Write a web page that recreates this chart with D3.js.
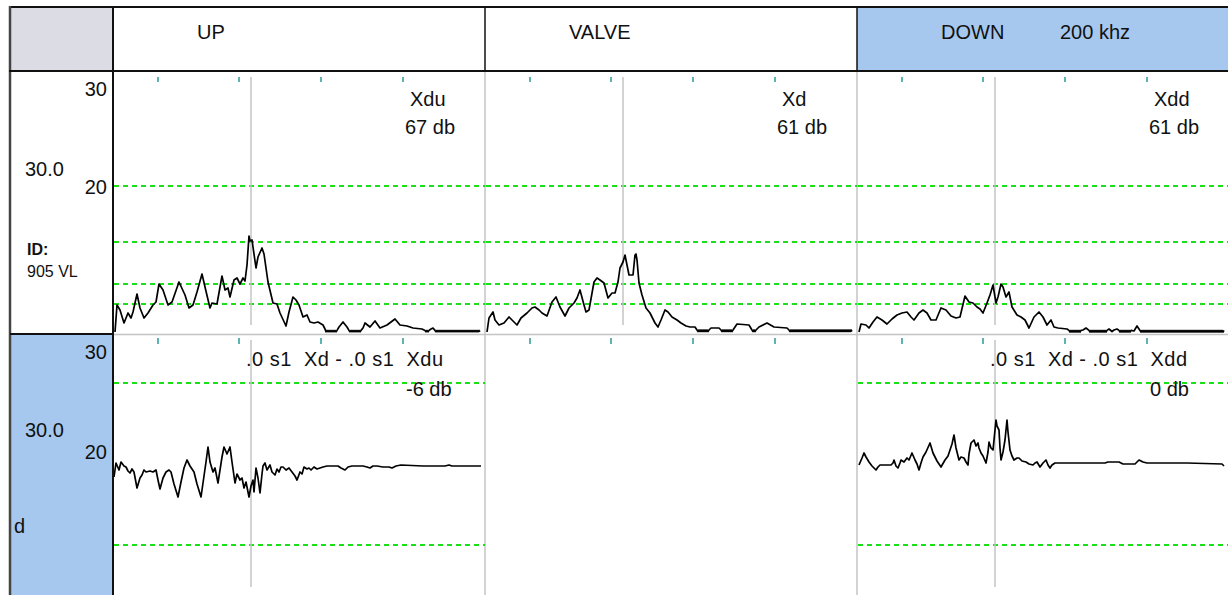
<!DOCTYPE html>
<html><head><meta charset="utf-8">
<script src="https://cdn.jsdelivr.net/npm/d3@7"></script>
<style>
html,body{margin:0;padding:0;background:#fff;}
svg{display:block;}
text{font-family:"Liberation Sans",Arial,sans-serif;fill:#111;}
</style></head><body>
<svg id="c" width="1228" height="595"></svg>
<script>
// ---------- data ----------
const columns = ["UP", "VALVE", "DOWN"];
const headerExtra = ["", "", "200 khz"];
const topNames = ["Xdu", "Xd", "Xdd"];
const topDb = ["67 db", "61 db", "61 db"];
const diffNames = [".0 s1  Xd - .0 s1  Xdu", null, ".0 s1  Xd - .0 s1  Xdd"];
const diffDb = ["-6 db", null, "0 db"];
const sideLabel = "30.0";
const idLabel = "ID:";
const idValue = "905 VL";
const diffSideLabel = "d";

const topAxisLabels = ["30", "20"];
const topAxisValues = [245, 147];
const bottomAxisLabels = ["30", "20"];
const bottomAxisValues = [114, 14];
const topGridValues = [147, 91, 49, 29];
const bottomGridValues = [83, -79];
const timeTicks = [45, 126, 208, 290];
const cursorSample = 138;

const upTop = [[2,1],[4,28],[7,23],[11,10],[15,20],[18,15],[20,21],[24,39],[27,25],[31,15],[35,20],[40,28],[43,31],[46,49],[50,43],[55,28],[59,31],[66,51],[72,38],[76,25],[80,28],[84,41],[89,59],[92,46],[97,25],[99,30],[104,29],[109,57],[112,43],[115,45],[117,36],[121,53],[124,55],[127,49],[130,55],[132,52],[134,68],[136,97],[137,92],[139,93],[143,65],[145,76],[149,85],[151,79],[155,51],[160,30],[164,29],[167,20],[173,7],[176,21],[180,36],[183,33],[186,28],[190,16],[194,18],[197,11],[201,10],[205,11],[210,8],
 [212,4],[213,1.2],[214,2.6],[215,1.2],[216,2.6],[217,1.2],[218,2.6],[219,1.2],[220,2.6],[221,1.2],[222,2.6],[223,1.2],[224,2.6],[226,6],[230,11],[234,6],[236,2.6],[237,1.2],[238,2.6],[239,1.2],[240,2.6],[241,1.2],[242,2.6],[243,1.2],[244,2.6],[245,1.2],[246,2.6],[247,1.2],[248,2.6],[250,5],[252,10],[257,6],[262,12],[267,5],[274,8],[282,14],[287,8],[294,7],[300,5],[309,4],[312,2.6],[313,1.2],[314,2.6],[315,1.2],[316,2.6],[318,4],[320,5],[322,2.6],[323,1.2],[324,2.6],[325,1.2],[326,2.6],[327,1.2],[328,2.6],[329,1.2],[330,2.6],[331,1.2],[332,2.6],[333,1.2],[334,2.6],[335,1.2],[336,2.6],[337,1.2],[338,2.6],[339,1.2],[340,2.6],[341,1.2],[342,2.6],[343,1.2],[344,2.6],[345,1.2],[346,2.6],[347,1.2],[348,2.6],[349,1.2],[350,2.6],[351,1.2],[352,2.6],[353,1.2],[354,2.6],[355,1.2],[356,2.6],[357,1.2],[358,2.6],[359,1.2],[360,2.6],[361,1.2],[362,2.6],[363,1.2],[364,2.6],[365,1.2],[366,2.6],[367,1.2]];

const valveTop = [[2,1],[4,15],[8,21],[10,13],[14,8],[19,10],[24,16],[29,11],[32,8],[36,15],[42,20],[47,25],[50,26],[54,23],[57,20],[62,17],[67,31],[71,36],[75,26],[80,17],[84,25],[89,30],[92,35],[95,43],[99,28],[101,21],[104,23],[109,51],[112,55],[115,53],[119,50],[123,35],[127,40],[130,40],[133,51],[135,65],[138,71],[140,78],[142,68],[144,58],[148,58],[150,78],[151,79],[152,73],[154,50],[157,38],[161,25],[165,20],[170,10],[173,6],[176,13],[180,23],[183,21],[187,16],[192,13],[196,10],[201,7],[205,6],[210,6],
 [212,3],[213,1.5],[214,3],[215,1.5],[216,3],[217,1.5],[218,3],[219,1.5],[220,3],[221,1.5],[222,3],[223,1.5],[224,3],[226,5],[234,5],[236,3],[237,1.5],[238,3],[239,1.5],[240,3],[241,1.5],[242,3],[243,1.5],[244,3],[245,1.5],[246,3],[247,1.5],[248,3],[252,9],[264,8],[267,3],[268,1.5],[269,3],[270,1.5],[271,3],[274,6],[282,10],[289,6],[302,5],[304,3],[305,1.5],[306,3],[307,1.5],[308,3],[309,1.5],[310,3],[311,1.5],[312,3],[313,1.5],[314,3],[315,1.5],[316,3],[317,1.5],[318,3],[319,1.5],[320,3],[321,1.5],[322,3],[323,1.5],[324,3],[325,1.5],[326,3],[327,1.5],[328,3],[329,1.5],[330,3],[331,1.5],[332,3],[333,1.5],[334,3],[335,1.5],[336,3],[337,1.5],[338,3],[339,1.5],[340,3],[341,1.5],[342,3],[343,1.5],[344,3],[345,1.5],[346,3],[347,1.5],[348,3],[349,1.5],[350,3],[351,1.5],[352,3],[353,1.5],[354,3],[355,1.5],[356,3],[357,1.5],[358,3],[359,1.5],[360,3],[361,1.5],[362,3],[363,1.5],[364,3],[365,1.5],[366,3],[367,1.5]];

const downTop = [[2,1],[4,9],[9,8],[12,5],[16,11],[20,16],[25,13],[30,9],[35,14],[40,18],[45,20],[50,21],[54,16],[57,13],[62,20],[66,23],[70,20],[74,13],[79,13],[84,25],[89,23],[94,17],[99,15],[103,16],[108,37],[112,31],[116,30],[120,26],[123,24],[126,20],[130,30],[133,38],[136,48],[139,30],[141,36],[144,49],[146,46],[149,36],[152,41],[155,26],[160,18],[164,16],[168,13],[172,5],[177,16],[182,21],[186,16],[190,8],[194,13],[197,6],[201,5],[210,4],
 [212,2.6],[213,1],[214,2.6],[215,1],[216,2.6],[217,1],[218,2.6],[219,1],[220,2.6],[221,1],[222,2.6],[223,1],[224,2.6],[226,3],[229,5],[232,2.6],[233,1],[234,2.6],[235,1],[236,2.6],[237,1],[238,2.6],[239,1],[240,2.6],[241,1],[242,2.6],[243,1],[244,2.6],[245,1],[246,2.6],[247,1],[248,2.6],[249,1],[250,2.6],[252,4],[255,1.5],[257,3],[260,4],[262,2.6],[263,1],[264,2.6],[265,1],[266,2.6],[267,1],[268,2.6],[269,1],[270,2.6],[271,1],[272,2.6],[273,1],[274,2.6],[277,2],[280,7],[283,2.6],[284,1],[285,2.6],[286,1],[287,2.6],[288,1],[289,2.6],[290,1],[291,2.6],[292,1],[293,2.6],[294,1],[295,2.6],[296,1],[297,2.6],[298,1],[299,2.6],[300,1],[301,2.6],[302,1],[303,2.6],[304,1],[305,2.6],[306,1],[307,2.6],[308,1],[309,2.6],[310,1],[311,2.6],[312,1],[313,2.6],[314,1],[315,2.6],[316,1],[317,2.6],[318,1],[319,2.6],[320,1],[321,2.6],[322,1],[323,2.6],[324,1],[325,2.6],[326,1],[327,2.6],[328,1],[329,2.6],[330,1],[331,2.6],[332,1],[333,2.6],[334,1],[335,2.6],[336,1],[337,2.6],[338,1],[339,2.6],[340,1],[341,2.6],[342,1],[343,2.6],[344,1],[345,2.6],[346,1],[347,2.6],[348,1],[349,2.6],[350,1],[351,2.6],[352,1],[353,2.6],[354,1],[355,2.6],[356,1],[357,2.6],[358,1],[359,2.6],[360,1],[361,2.6],[362,1],[363,2.6],[364,1],[365,2.6],[366,1],[367,2.6]];

const upDiff = [[1,-11],[3,3],[6,-4],[8,4],[11,0],[13,-1],[15,-5],[17,-7],[19,-3],[21,-6],[24,-22],[27,-12],[29,-9],[31,-4],[33,-6],[37,-5],[40,-6],[43,-4],[45,-14],[47,-23],[50,-12],[53,-6],[56,-4],[58,-6],[61,-18],[65,-31],[68,-16],[71,-2],[74,6],[77,0],[81,-6],[84,-18],[88,-31],[91,-10],[93,4],[95,19],[97,4],[100,-6],[102,-2],[105,-17],[107,-4],[109,9],[111,19],[114,12],[117,19],[119,4],[122,-17],[124,-8],[127,-14],[129,-12],[131,-22],[133,-16],[136,-31],[138,-20],[140,-14],[141,-26],[143,-2],[145,-12],[147,-27],[149,-8],[150,0],[152,3],[154,-4],[157,1],[159,-6],[162,-9],[164,-3],[166,-6],[168,-1],[170,-1],[173,-4],[176,-2],[179,-6],[182,-10],[184,-14],[187,-6],[189,-8],[191,-1],[194,-3],[196,-2],[198,-4],[201,-1],[204,-3],[207,-2],[210,-1],[214,0],[220,0],[225,0],[228,-2],[232,-4],[235,-1],[239,0],[245,0],[250,0],[254,-1],[257,-2],[260,0],[264,0],[270,-1],[276,-1],[279,-2],[283,0],[288,1],[310,0],[332,0],[336,1],[339,0],[368,0]];

const downDiff = [[2,1],[5,8],[7,13],[9,9],[12,4],[15,0],[19,-4],[21,-1],[23,1],[28,1],[34,1],[36,3],[37,6],[39,0],[41,-2],[43,3],[44,6],[47,4],[50,8],[52,6],[55,13],[58,6],[60,2],[62,-4],[64,3],[66,9],[69,14],[73,23],[76,13],[80,5],[84,-1],[88,6],[91,10],[93,16],[95,22],[97,31],[99,18],[102,6],[104,9],[107,8],[109,4],[111,1],[112,12],[114,23],[117,26],[119,20],[121,23],[122,18],[124,13],[126,10],[129,3],[131,14],[132,24],[134,18],[136,16],[137,26],[139,46],[140,40],[142,36],[143,18],[144,6],[146,14],[148,26],[150,46],[151,34],[153,16],[155,10],[157,6],[160,8],[162,8],[165,5],[169,4],[172,2],[176,1],[178,3],[180,4],[183,-1],[186,3],[189,6],[191,1],[193,-2],[195,1],[198,3],[205,3],[212,3],[230,3],[248,3],[251,4],[262,4],[266,2],[278,2],[282,6],[286,4],[290,3],[330,3],[365,2],[367,0]];

const topTraces = [upTop, valveTop, downTop];
const diffTraces = [upDiff, null, downDiff];

// ---------- layout ----------
const svg = d3.select("#c");
const W = 1228, H = 595;
const leftX = 11, plotX = 113, colW = 372;
const headTop = 8, headBot = 71;
const topP = {y0: 72, y1: 333};
const botP = {y0: 334, y1: 595};
const BLUE = "#a6c8ee", GREY = "#dcdce4", GRID = "#19e019", TEAL = "#2a9a9a", LGREY = "#c4c4c4";

const yTop = d3.scaleLinear().domain([0, 245]).range([333, 88]);
const yBot = d3.scaleLinear().domain([-129, 132]).range([595, 334]);
const colScale = d3.scaleBand().domain(columns).range([plotX, plotX + 3 * colW]).paddingInner(0).paddingOuter(0);
const xFor = c => d3.scaleLinear().domain([0, colW]).range([colScale(c), colScale(c) + colW]);

// backgrounds
svg.append("rect").attr("x", 0).attr("y", 0).attr("width", W).attr("height", H).attr("fill", "#fff");
svg.append("rect").attr("x", leftX).attr("y", headTop).attr("width", plotX - leftX).attr("height", headBot - headTop).attr("fill", GREY);
svg.append("rect").attr("x", colScale("DOWN")).attr("y", headTop).attr("width", colW).attr("height", headBot - headTop).attr("fill", BLUE);
svg.append("rect").attr("x", leftX).attr("y", botP.y0 + 1).attr("width", plotX - leftX).attr("height", H - botP.y0).attr("fill", BLUE);

// plot divider lines (grey)
const grey = svg.append("g").attr("stroke", LGREY).attr("stroke-width", 1.5);
columns.slice(1).forEach(c => {
  grey.append("line").attr("x1", colScale(c)).attr("x2", colScale(c)).attr("y1", headBot).attr("y2", H);
});
grey.append("line").attr("x1", plotX).attr("x2", W).attr("y1", botP.y0 + 0.5).attr("y2", botP.y0 + 0.5);

// grid lines
const gridG = svg.append("g").attr("stroke", GRID).attr("stroke-width", 2).attr("stroke-dasharray", "5,4");
columns.forEach((c, i) => {
  const x = xFor(c);
  topGridValues.forEach(v => {
    gridG.append("line").attr("x1", x(1)).attr("x2", x(colW)).attr("y1", yTop(v)).attr("y2", yTop(v));
  });
  if (diffTraces[i]) {
    bottomGridValues.forEach(v => {
      gridG.append("line").attr("x1", x(1)).attr("x2", x(colW)).attr("y1", yBot(v)).attr("y2", yBot(v));
    });
  }
});

// time ticks
const tickG = svg.append("g").attr("stroke", TEAL).attr("stroke-width", 1.5);
columns.forEach(c => {
  const x = xFor(c);
  timeTicks.forEach(t => {
    tickG.append("line").attr("x1", x(t)).attr("x2", x(t)).attr("y1", topP.y0 + 5).attr("y2", topP.y0 + 10);
    tickG.append("line").attr("x1", x(t)).attr("x2", x(t)).attr("y1", botP.y0 + 4).attr("y2", botP.y0 + 10);
  });
});

// cursor lines
const curG = svg.append("g").attr("stroke", LGREY).attr("stroke-width", 1.5);
columns.forEach((c, i) => {
  const x = xFor(c);
  curG.append("line").attr("x1", x(cursorSample)).attr("x2", x(cursorSample)).attr("y1", topP.y0 + 5).attr("y2", topP.y1 - 8);
  if (diffTraces[i]) {
    curG.append("line").attr("x1", x(cursorSample)).attr("x2", x(cursorSample)).attr("y1", botP.y0 + 6).attr("y2", H - 8);
  }
});

// traces
const traceG = svg.append("g").attr("fill", "none").attr("stroke", "#000").attr("stroke-width", 1.7).attr("stroke-linejoin", "round");
columns.forEach((c, i) => {
  const x = xFor(c);
  const lt = d3.line().x(d => x(d[0])).y(d => yTop(d[1]));
  traceG.append("path").attr("d", lt(topTraces[i]));
  if (diffTraces[i]) {
    const lb = d3.line().x(d => x(d[0])).y(d => yBot(d[1]));
    traceG.append("path").attr("d", lb(diffTraces[i]));
  }
});

// borders (black)
const bG = svg.append("g").attr("stroke", "#111");
bG.append("line").attr("x1", 9).attr("x2", W).attr("y1", 7).attr("y2", 7).attr("stroke-width", 2);
bG.append("line").attr("x1", 10).attr("x2", 10).attr("y1", 6).attr("y2", H).attr("stroke-width", 2.5).attr("stroke", "#444");
bG.append("line").attr("x1", 9).attr("x2", W).attr("y1", headBot).attr("y2", headBot).attr("stroke-width", 2);
bG.append("line").attr("x1", plotX).attr("x2", plotX).attr("y1", 7).attr("y2", H).attr("stroke-width", 2);
bG.append("line").attr("x1", 10).attr("x2", plotX).attr("y1", botP.y0).attr("y2", botP.y0).attr("stroke-width", 2);
columns.slice(1).forEach(c => {
  bG.append("line").attr("x1", colScale(c)).attr("x2", colScale(c)).attr("y1", 7).attr("y2", headBot).attr("stroke-width", 1.5);
});

// texts
const FS = 20;
const txt = svg.append("g").attr("font-size", FS);
columns.forEach((c, i) => {
  const x0 = colScale(c);
  txt.append("text").attr("x", x0 + 84).attr("y", 39).text(c);
  if (headerExtra[i]) txt.append("text").attr("x", x0 + 203).attr("y", 39).text(headerExtra[i]);
  txt.append("text").attr("x", x0 + 297).attr("y", 106).text(topNames[i]);
  txt.append("text").attr("x", x0 + 292).attr("y", 134).text(topDb[i]);
  if (diffNames[i]) {
    txt.append("text").attr("x", x0 + 133).attr("y", 366).attr("xml:space", "preserve").style("white-space", "pre")
      .attr("textLength", 197).attr("lengthAdjust", "spacing").text(diffNames[i]);
    txt.append("text").attr("x", x0 + 293).attr("y", 396).text(diffDb[i]);
  }
});
topAxisLabels.forEach((l, i) => {
  txt.append("text").attr("x", 107).attr("y", yTop(topAxisValues[i]) + 8).attr("text-anchor", "end").text(l);
});
bottomAxisLabels.forEach((l, i) => {
  txt.append("text").attr("x", 107).attr("y", yBot(bottomAxisValues[i]) + 7).attr("text-anchor", "end").text(l);
});
txt.append("text").attr("x", 25).attr("y", 176).text(sideLabel);
txt.append("text").attr("x", 25).attr("y", 437).text(sideLabel);
txt.append("text").attr("x", 27).attr("y", 255).attr("font-size", 16).attr("font-weight", "bold").text(idLabel);
txt.append("text").attr("x", 27).attr("y", 277).attr("font-size", 16).text(idValue);
txt.append("text").attr("x", 14).attr("y", 533).text(diffSideLabel);
</script>
</body></html>
